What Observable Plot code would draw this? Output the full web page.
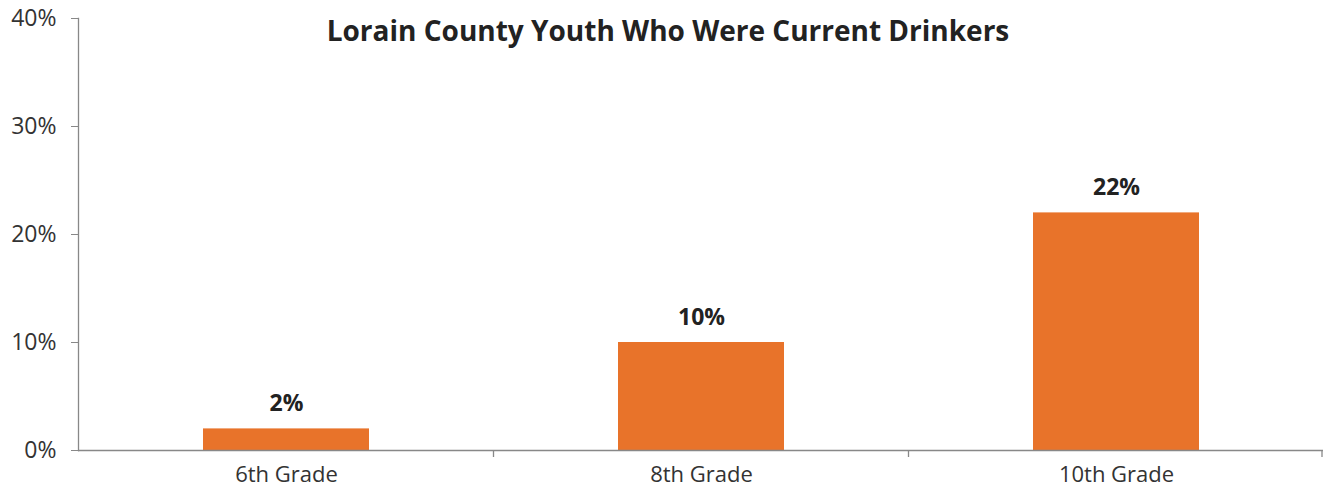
<!DOCTYPE html>
<html><head><meta charset="utf-8">
<script src="https://cdn.jsdelivr.net/npm/d3@7"></script>
<script src="https://cdn.jsdelivr.net/npm/@observablehq/plot@0.6"></script>
<style>
body{margin:0;background:#fff;font-family:"Open Sans",sans-serif;}
#chart svg{display:block;}
</style></head>
<body><div id="chart"></div>
<script>
const grades = ["6th Grade", "8th Grade", "10th Grade"];
const values = [2, 10, 22];
const yTicks = [0, 10, 20, 30, 40];
const title = "Lorain County Youth Who Were Current Drinkers";

const data = grades.map((g, i) => ({grade: g, value: values[i]}));
const W = 1325, H = 488, mL = 78, mR = 2;
const step = (W - mL - mR) / grades.length;

const chart = Plot.plot({
  width: W, height: H,
  marginLeft: mL, marginRight: mR, marginTop: 18, marginBottom: 38,
  style: {fontFamily: "'Open Sans', sans-serif", fontSize: "22px", color: "#333", background: "#fff"},
  x: {domain: grades, paddingInner: 0.6, paddingOuter: 0.3, label: null},
  y: {domain: [0, 40], label: null},
  marks: [
    Plot.barY(data, {x: "grade", y: "value", fill: "#E8732A"}),
    Plot.axisY({ticks: yTicks, tickFormat: d => d + "%", tickSize: 7, tickPadding: 15, stroke: "#888", fill: "#333", fontSize: 23, label: null}),
    Plot.frame({anchor: "left", stroke: "#888", strokeWidth: 1.3}),
    Plot.axisX({tickSize: 0, tickPadding: 16, fontSize: 22, fill: "#333", label: null}),
    Plot.ruleY([0], {stroke: "#888", strokeWidth: 1.3}),
    Plot.text(data, {x: "grade", y: "value", text: d => d.value + "%", dy: -25, fontWeight: "bold", fontSize: 23, fill: "#222"}),
    Plot.text([title], {frameAnchor: "top", dx: -33, dy: 3, fontWeight: "bold", fontSize: 28, fill: "#222"})
  ]
});
document.getElementById("chart").append(chart);

// category separator ticks along the x baseline
const svg = d3.select(chart);
const xs = chart.scale("x"), ys = chart.scale("y");
const y0 = ys.apply(0);
const bounds = grades.map(g => xs.apply(g) + xs.bandwidth / 2 + step / 2);
svg.append("g").selectAll("line").data(bounds).join("line")
  .attr("x1", d => Math.min(d, W - mR - 1)).attr("x2", d => Math.min(d, W - mR - 1))
  .attr("y1", y0).attr("y2", y0 + 7)
  .attr("stroke", "#888").attr("stroke-width", 1.3);
</script></body></html>
